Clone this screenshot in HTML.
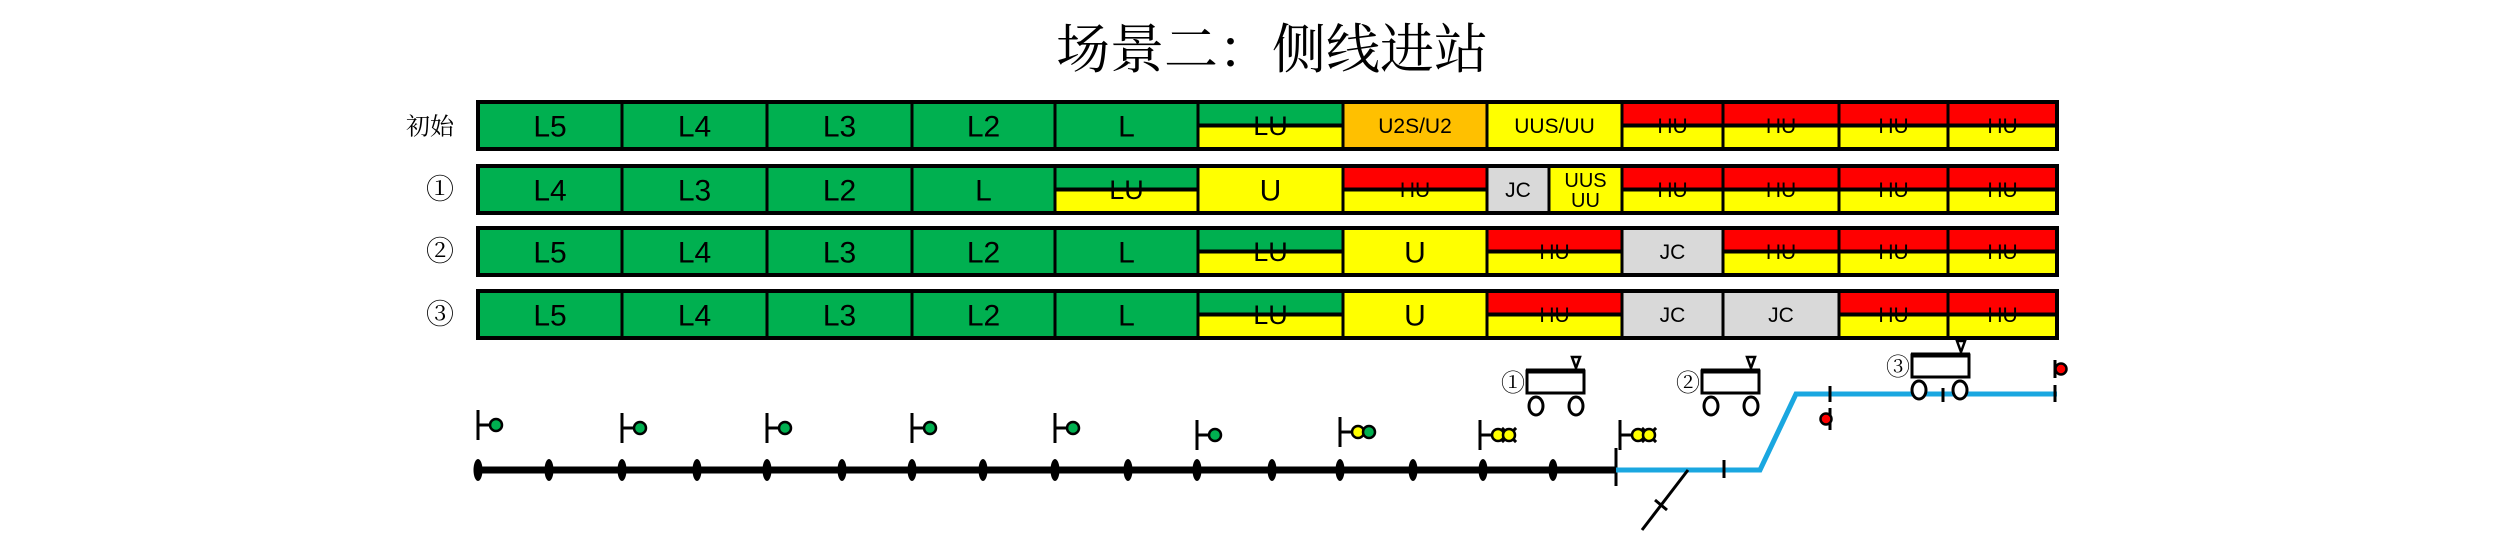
<!DOCTYPE html>
<html><head><meta charset="utf-8"><style>
html,body{margin:0;padding:0;background:#fff;}
svg{display:block;}
</style></head><body>
<svg width="2520" height="556" viewBox="0 0 2520 556" xmlns="http://www.w3.org/2000/svg" font-family="Liberation Sans, Noto Sans CJK SC, sans-serif">
<rect width="2520" height="556" fill="#fff"/>
<text x="1272" y="68" font-size="54" text-anchor="middle" font-family="Noto Serif CJK SC, Noto Sans CJK SC, serif">场景二：侧线进站</text>
<g id="rows"></g>
<g id="track"></g>
</svg>
<script>
const NS="http://www.w3.org/2000/svg";
function el(parent,tag,attrs,text){const e=document.createElementNS(NS,tag);for(const k in attrs)e.setAttribute(k,attrs[k]);if(text!==undefined)e.textContent=text;parent.appendChild(e);return e;}
const rows=document.getElementById('rows');
const G="#00B050",Y="#FFFF00",R="#FF0000",O="#FFC000",C="#D9D9D9";
const X=[478,622,767,912,1055,1198,1343,1487,1622,1723,1839,1948,2057];
const rowsDef=[
 {y0:102,y1:149,label:"初始",cells:[["G","L5"],["G","L4"],["G","L3"],["G","L2"],["G","L"],["GY","LU"],["O","U2S/U2"],["Y","UUS/UU"],["RY","HU"],["RY","HU"],["RY","HU"],["RY","HU"]]},
 {y0:166,y1:213,label:"①",custom:[[478,622,"G","L4"],[622,767,"G","L3"],[767,912,"G","L2"],[912,1055,"G","L"],[1055,1198,"GY","LU"],[1198,1343,"Y","U"],[1343,1487,"RY","HU"],[1487,1549,"C","JC"],[1549,1622,"Y2","UUS|UU"],[1622,1723,"RY","HU"],[1723,1839,"RY","HU"],[1839,1948,"RY","HU"],[1948,2057,"RY","HU"]]},
 {y0:228,y1:275,label:"②",cells:[["G","L5"],["G","L4"],["G","L3"],["G","L2"],["G","L"],["GY","LU"],["Y","U"],["RY","HU"],["C","JC"],["RY","HU"],["RY","HU"],["RY","HU"]]},
 {y0:291,y1:338,label:"③",cells:[["G","L5"],["G","L4"],["G","L3"],["G","L2"],["G","L"],["GY","LU"],["Y","U"],["RY","HU"],["C","JC"],["C","JC"],["RY","HU"],["RY","HU"]]}
];
rowsDef.forEach(r=>{
 let cells=r.custom||r.cells.map((c,i)=>[X[i],X[i+1],c[0],c[1]]);
 const h=r.y1-r.y0, mid=r.y0+h/2;
 el(rows,'text',{x:r.label.length>1?430:440,y:mid+9,'font-size':r.label.length>1?24:28,'text-anchor':'middle','font-family':'Noto Serif CJK SC, serif'},r.label);
 cells.forEach(([a,b,t,l])=>{
  const w=b-a, cx=(a+b)/2;
  if(t=="G"||t=="Y"||t=="O"||t=="C"||t=="Y2"){
   el(rows,'rect',{x:a,y:r.y0,width:w,height:h,fill:t=="G"?G:t=="O"?O:t=="C"?C:Y});
  } else {
   el(rows,'rect',{x:a,y:r.y0,width:w,height:h/2,fill:t=="GY"?G:R});
   el(rows,'rect',{x:a,y:mid,width:w,height:h/2,fill:Y});
   el(rows,'line',{x1:a,x2:b,y1:mid,y2:mid,stroke:'#000','stroke-width':4});
  }
  if(t=="Y2"){
   el(rows,'text',{x:cx,y:r.y0+21,'font-size':20,'text-anchor':'middle'},"UUS");
   el(rows,'text',{x:cx,y:r.y0+41,'font-size':20,'text-anchor':'middle'},"UU");
  } else {
   const fs=l.length>4?21:(t=="RY"||t=="C")?21:(t=="GY")?27:30;
   el(rows,'text',{x:cx,y:mid+fs*0.36,'font-size':fs,'text-anchor':'middle'},l);
  }
  el(rows,'rect',{x:a,y:r.y0,width:w,height:h,fill:'none',stroke:'#000','stroke-width':3});
 });
 el(rows,'rect',{x:478,y:r.y0,width:2057-478,height:h,fill:'none',stroke:'#000','stroke-width':4});
});
const tr=document.getElementById('track');
el(tr,'line',{x1:478,y1:470,x2:1616,y2:470,stroke:'#000','stroke-width':7});
[478,549,622,697,767,842,912,983,1055,1128,1197,1272,1340,1413,1483,1553].forEach(x=>el(tr,'ellipse',{cx:x,cy:470,rx:4.5,ry:11,fill:'#000'}));
el(tr,'line',{x1:1616,y1:448,x2:1616,y2:486,stroke:'#000','stroke-width':3});
el(tr,'polyline',{points:"1616,470 1760,470 1796,394 2057,394",fill:'none',stroke:'#1AA7E0','stroke-width':5});
el(tr,'line',{x1:1724,y1:460,x2:1724,y2:478,stroke:'#000','stroke-width':3});
el(tr,'line',{x1:1830,y1:386,x2:1830,y2:402,stroke:'#000','stroke-width':3});
el(tr,'line',{x1:1943,y1:388,x2:1943,y2:402,stroke:'#000','stroke-width':3});
el(tr,'line',{x1:2055,y1:385,x2:2055,y2:402,stroke:'#000','stroke-width':3});
el(tr,'line',{x1:1688,y1:470,x2:1642,y2:530,stroke:'#000','stroke-width':3});
el(tr,'line',{x1:1655,y1:500,x2:1667,y2:510,stroke:'#000','stroke-width':3});
function sig(x,y0,colors,xs){
 el(tr,'line',{x1:x,y1:y0,x2:x,y2:y0+30,stroke:'#000','stroke-width':3});
 el(tr,'line',{x1:x,y1:y0+15,x2:x+12,y2:y0+15,stroke:'#000','stroke-width':3});
 colors.forEach((c,i)=>{const cx=x+18+i*11;
  if(xs&&i==1){for(let k=0;k<4;k++){const ang=Math.PI/4+k*Math.PI/2;el(tr,'line',{x1:cx,y1:y0+15,x2:cx+Math.cos(ang)*10,y2:y0+15+Math.sin(ang)*10,stroke:'#000','stroke-width':3});}}
  el(tr,'circle',{cx:cx,cy:y0+15,r:6,fill:c,stroke:'#000','stroke-width':2.5});});
}
sig(478,410,[G]);sig(622,413,[G]);sig(767,413,[G]);sig(912,413,[G]);sig(1055,413,[G]);
sig(1197,420,[G]);sig(1340,417,[Y,G]);sig(1480,420,[Y,Y],true);sig(1620,420,[Y,Y],true);
el(tr,'line',{x1:1830,y1:408,x2:1830,y2:430,stroke:'#000','stroke-width':3});
el(tr,'circle',{cx:1826,cy:419,r:5.5,fill:R,stroke:'#000','stroke-width':2.5});
el(tr,'line',{x1:2055,y1:360,x2:2055,y2:378,stroke:'#000','stroke-width':3});
el(tr,'circle',{cx:2061,cy:369,r:5.5,fill:R,stroke:'#000','stroke-width':2.5});
function train(bx,by,lbl,w1,w2){
 el(tr,'rect',{x:bx,y:by,width:57,height:22,fill:'#fff',stroke:'#000','stroke-width':3});
 el(tr,'line',{x1:bx-1,y1:by,x2:bx+58,y2:by,stroke:'#000','stroke-width':5});
 el(tr,'ellipse',{cx:bx+w1,cy:by+35,rx:7,ry:9,fill:'#fff',stroke:'#000','stroke-width':3});
 el(tr,'ellipse',{cx:bx+w2,cy:by+35,rx:7,ry:9,fill:'#fff',stroke:'#000','stroke-width':3});
 el(tr,'polygon',{points:`${bx+45},${by-14} ${bx+53},${by-14} ${bx+49},${by-3}`,fill:'#fff',stroke:'#000','stroke-width':2.5});
 el(tr,'text',{x:bx-2,y:by+20,'font-size':24,'text-anchor':'end','font-family':'Noto Serif CJK SC, serif'},lbl);
}
train(1527,371,"①",9,49);train(1702,371,"②",9,49);train(1912,355,"③",7,48);
</script>
</body></html>
